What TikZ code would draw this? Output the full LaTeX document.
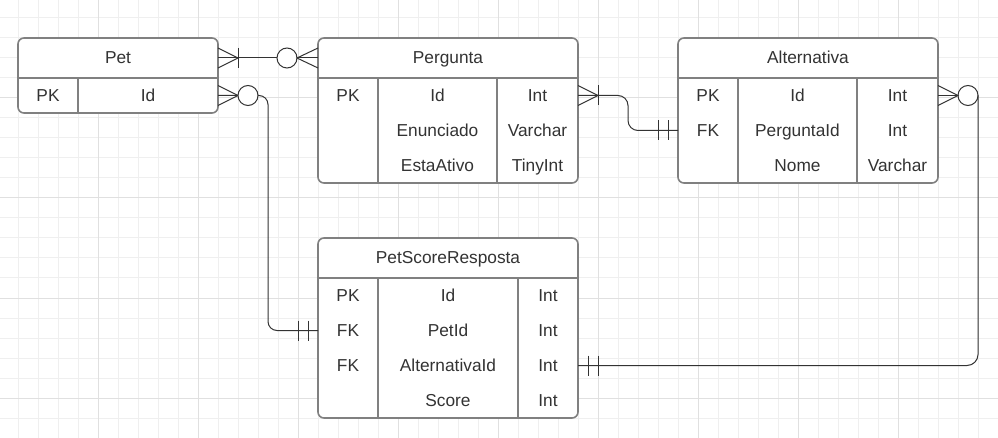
\documentclass[tikz,border=0pt]{standalone}
\usepackage{fontspec}
\setmainfont{Liberation Sans}
\usetikzlibrary{calc}
\definecolor{minorgrid}{RGB}{239,239,239}
\definecolor{majorgrid}{RGB}{224,224,224}
\definecolor{tblborder}{RGB}{128,128,128}
\definecolor{txtcol}{RGB}{51,51,51}
\definecolor{conncol}{RGB}{51,51,51}
\tikzset{
 tbl/.style={draw=tblborder, fill=white, line width=1.6pt, rounded corners=6pt, inner sep=0pt, outer sep=0pt, anchor=north west, rectangle},
 tblline/.style={draw=tblborder, line width=1.6pt},
 cell/.style={text=txtcol, font=\fontsize{17.3}{20}\selectfont, inner sep=0pt, text height=12pt, text depth=0pt, anchor=center},
 conn/.style={draw=conncol, line width=1pt},
 optcircle/.style={draw=conncol, line width=1pt, fill=white, circle, minimum size=20pt, inner sep=0pt, outer sep=0pt},
 gridminor/.style={draw=minorgrid, line width=1pt},
 gridmajor/.style={draw=majorgrid, line width=1pt},
}
\begin{document}
\begin{tikzpicture}[x=1pt,y=-1pt]
\useasboundingbox (0,0) rectangle (998,438);
\fill[white] (0,0) rectangle (998,438);
% grid
\foreach \x in {18,38,...,998} \draw[gridminor] (\x,0) -- (\x,438);
\foreach \y in {18,38,...,438} \draw[gridminor] (0,\y) -- (998,\y);
\foreach \x in {98,198,...,998} \draw[gridmajor] (\x,0) -- (\x,438);
\foreach \y in {98,198,...,398} \draw[gridmajor] (0,\y) -- (998,\y);

% ---------- Pet ----------
\node[tbl, minimum width=200pt, minimum height=75pt] (pet) at (18,38) {};
\draw[tblline] ($(pet.north west)+(0,40)$) -- ($(pet.north east)+(0,40)$);
\draw[tblline] ($(pet.north west)+(60,40)$) -- ($(pet.south west)+(60,0)$);
\node[cell] (pettitle) at (118,58) {Pet};
\node[cell] (petpk) at (48,95.5) {PK};
\node[cell] (petid) at (148,95.5) {Id};

% ---------- Pergunta ----------
\node[tbl, minimum width=260pt, minimum height=145pt] (perg) at (318,38) {};
\draw[tblline] ($(perg.north west)+(0,40)$) -- ($(perg.north east)+(0,40)$);
\draw[tblline] ($(perg.north west)+(60,40)$) -- ($(perg.south west)+(60,0)$);
\draw[tblline] ($(perg.north west)+(179,40)$) -- ($(perg.south west)+(179,0)$);
\node[cell] (pergtitle) at (448,58) {Pergunta};
\node[cell] (pergpk) at (348,95.5) {PK};
\node[cell] (pergid) at (437.5,95.5) {Id};
\node[cell] (pergidt) at (537.5,95.5) {Int};
\node[cell] (pergenun) at (437.5,130.5) {Enunciado};
\node[cell] (pergenunt) at (537.5,130.5) {Varchar};
\node[cell] (pergativo) at (437.5,165.5) {EstaAtivo};
\node[cell] (pergativot) at (537.5,165.5) {TinyInt};

% ---------- Alternativa ----------
\node[tbl, minimum width=260pt, minimum height=145pt] (alt) at (678,38) {};
\draw[tblline] ($(alt.north west)+(0,40)$) -- ($(alt.north east)+(0,40)$);
\draw[tblline] ($(alt.north west)+(60,40)$) -- ($(alt.south west)+(60,0)$);
\draw[tblline] ($(alt.north west)+(179,40)$) -- ($(alt.south west)+(179,0)$);
\node[cell] (alttitle) at (808,58) {Alternativa};
\node[cell] (altpk) at (708,95.5) {PK};
\node[cell] (altfk) at (708,130.5) {FK};
\node[cell] (altid) at (797.5,95.5) {Id};
\node[cell] (altidt) at (897.5,95.5) {Int};
\node[cell] (altpergid) at (797.5,130.5) {PerguntaId};
\node[cell] (altpergidt) at (897.5,130.5) {Int};
\node[cell] (altnome) at (797.5,165.5) {Nome};
\node[cell] (altnomet) at (897.5,165.5) {Varchar};

% ---------- PetScoreResposta ----------
\node[tbl, minimum width=260pt, minimum height=180pt] (psr) at (318,238) {};
\draw[tblline] ($(psr.north west)+(0,40)$) -- ($(psr.north east)+(0,40)$);
\draw[tblline] ($(psr.north west)+(60,40)$) -- ($(psr.south west)+(60,0)$);
\draw[tblline] ($(psr.north west)+(200,40)$) -- ($(psr.south west)+(200,0)$);
\node[cell] (psrtitle) at (448,258) {PetScoreResposta};
\node[cell] (psrpk) at (348,295.5) {PK};
\node[cell] (psrfk1) at (348,330.5) {FK};
\node[cell] (psrfk2) at (348,365.5) {FK};
\node[cell] (psrid) at (448,295.5) {Id};
\node[cell] (psrpetid) at (448,330.5) {PetId};
\node[cell] (psraltid) at (448,365.5) {AlternativaId};
\node[cell] (psrscore) at (448,400.5) {Score};
\node[cell] (psridt) at (548,295.5) {Int};
\node[cell] (psrpetidt) at (548,330.5) {Int};
\node[cell] (psraltidt) at (548,365.5) {Int};
\node[cell] (psrscoret) at (548,400.5) {Int};

% ---------- Connector 1: Pet -- Pergunta ----------
\coordinate (e1a) at (pet.east |- pettitle.center);
\coordinate (e1b) at (perg.west |- pergtitle.center);
\draw[conn] (e1a) -- (e1b);
\draw[conn] ($(e1a)+(0,-10)$) -- ($(e1a)+(20,0)$) -- ($(e1a)+(0,10)$);
\draw[conn] ($(e1a)+(20,-10)$) -- ($(e1a)+(20,10)$);
\node[optcircle] (o1) at ($(e1b)+(-31,0)$) {};
\draw[conn] ($(e1b)+(0,-10)$) -- (o1.east) -- ($(e1b)+(0,10)$);

% ---------- Connector 2: Pet.Id -- PetScoreResposta.PetId ----------
\coordinate (e2a) at (pet.east |- petid.center);
\coordinate (e2b) at (psr.west |- psrpetid.center);
\draw[conn, rounded corners=9pt] (e2a) -- ($(e2a)+(50,0)$) |- (e2b);
\draw[conn] ($(e2a)+(0,-10)$) -- ($(e2a)+(20,0)$) -- ($(e2a)+(0,10)$);
\node[optcircle] (o2) at ($(e2a)+(30,0)$) {};
\draw[conn] ($(e2b)+(-20,-10)$) -- ($(e2b)+(-20,10)$);
\draw[conn] ($(e2b)+(-10,-10)$) -- ($(e2b)+(-10,10)$);

% ---------- Connector 3: Pergunta.Id -- Alternativa.PerguntaId ----------
\coordinate (e3a) at (perg.east |- pergid.center);
\coordinate (e3b) at (alt.west |- altpergid.center);
\draw[conn, rounded corners=10pt] (e3a) -- ($(e3a)+(50,0)$) |- (e3b);
\draw[conn] ($(e3a)+(0,-10)$) -- ($(e3a)+(20,0)$) -- ($(e3a)+(0,10)$);
\draw[conn] ($(e3a)+(20,-10)$) -- ($(e3a)+(20,10)$);
\draw[conn] ($(e3b)+(-20,-10)$) -- ($(e3b)+(-20,10)$);
\draw[conn] ($(e3b)+(-10,-10)$) -- ($(e3b)+(-10,10)$);

% ---------- Connector 4: Alternativa.Id -- PetScoreResposta.AlternativaId ----------
\coordinate (e4a) at (alt.east |- altid.center);
\coordinate (e4b) at (psr.east |- psraltid.center);
\node[optcircle] (o4) at ($(e4a)+(30,0)$) {};
\draw[conn] (e4a) -- (o4.west);
\draw[conn] ($(e4a)+(0,-10)$) -- (o4.west) -- ($(e4a)+(0,10)$);
\draw[conn, rounded corners=11pt] (o4.east) |- (e4b);
\draw[conn] ($(e4b)+(10,-10)$) -- ($(e4b)+(10,10)$);
\draw[conn] ($(e4b)+(20,-10)$) -- ($(e4b)+(20,10)$);
\end{tikzpicture}
\end{document}
